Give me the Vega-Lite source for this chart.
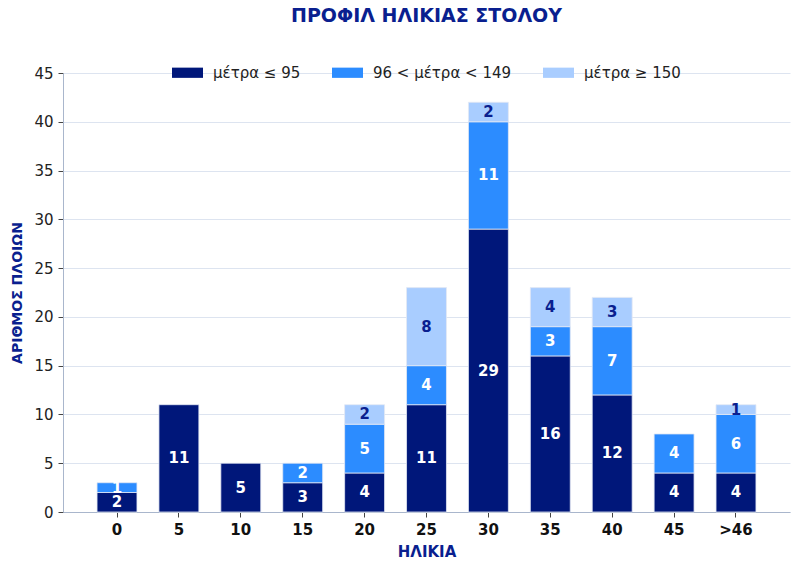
{
  "$schema": "https://vega.github.io/schema/vega-lite/v6.json",
  "autosize": {"type": "none"},
  "padding": {"left": 63, "top": 73, "right": 8, "bottom": 56},
  "width": 727,
  "height": 439,
  "title": {
    "text": "ΠΡΟΦΙΛ ΗΛΙΚΙΑΣ ΣΤΟΛΟΥ",
    "fontSize": 19,
    "fontWeight": "bold",
    "color": "#0a1f8f",
    "offset": 31,
    "anchor": "middle"
  },
  "config": {
    "font": "DejaVu Sans",
    "view": {"stroke": null},
    "axis": {"labelFontSize": 15, "titleFontSize": 15, "titleFontWeight": "bold", "titleColor": "#0a1f8f"}
  },
  "data": {
    "values": [
      {"age": "0", "size": "μέτρα ≤ 95", "tier": 1, "count": 2},
      {"age": "0", "size": "96 < μέτρα < 149", "tier": 2, "count": 1},
      {"age": "5", "size": "μέτρα ≤ 95", "tier": 1, "count": 11},
      {"age": "10", "size": "μέτρα ≤ 95", "tier": 1, "count": 5},
      {"age": "15", "size": "μέτρα ≤ 95", "tier": 1, "count": 3},
      {"age": "15", "size": "96 < μέτρα < 149", "tier": 2, "count": 2},
      {"age": "20", "size": "μέτρα ≤ 95", "tier": 1, "count": 4},
      {"age": "20", "size": "96 < μέτρα < 149", "tier": 2, "count": 5},
      {"age": "20", "size": "μέτρα ≥ 150", "tier": 3, "count": 2},
      {"age": "25", "size": "μέτρα ≤ 95", "tier": 1, "count": 11},
      {"age": "25", "size": "96 < μέτρα < 149", "tier": 2, "count": 4},
      {"age": "25", "size": "μέτρα ≥ 150", "tier": 3, "count": 8},
      {"age": "30", "size": "μέτρα ≤ 95", "tier": 1, "count": 29},
      {"age": "30", "size": "96 < μέτρα < 149", "tier": 2, "count": 11},
      {"age": "30", "size": "μέτρα ≥ 150", "tier": 3, "count": 2},
      {"age": "35", "size": "μέτρα ≤ 95", "tier": 1, "count": 16},
      {"age": "35", "size": "96 < μέτρα < 149", "tier": 2, "count": 3},
      {"age": "35", "size": "μέτρα ≥ 150", "tier": 3, "count": 4},
      {"age": "40", "size": "μέτρα ≤ 95", "tier": 1, "count": 12},
      {"age": "40", "size": "96 < μέτρα < 149", "tier": 2, "count": 7},
      {"age": "40", "size": "μέτρα ≥ 150", "tier": 3, "count": 3},
      {"age": "45", "size": "μέτρα ≤ 95", "tier": 1, "count": 4},
      {"age": "45", "size": "96 < μέτρα < 149", "tier": 2, "count": 4},
      {"age": ">46", "size": "μέτρα ≤ 95", "tier": 1, "count": 4},
      {"age": ">46", "size": "96 < μέτρα < 149", "tier": 2, "count": 6},
      {"age": ">46", "size": "μέτρα ≥ 150", "tier": 3, "count": 1}
    ]
  },
  "transform": [
    {"stack": "count", "groupby": ["age"], "sort": [{"field": "tier", "order": "ascending"}], "as": ["y0", "y1"]},
    {"calculate": "(datum.y0 + datum.y1) / 2", "as": "ymid"}
  ],
  "encoding": {
    "x": {
      "field": "age",
      "type": "nominal",
      "sort": ["0", "5", "10", "15", "20", "25", "30", "35", "40", "45", ">46"],
      "scale": {"paddingInner": 0.355, "paddingOuter": 0.55},
      "axis": {
        "title": "ΗΛΙΚΙΑ",
        "labelAngle": 0,
        "labelFontWeight": "bold",
        "labelColor": "#111",
        "labelPadding": 5,
        "tickSize": 5,
        "tickColor": "#444",
        "domainColor": "#a9b6cc",
        "titlePadding": 7
      }
    }
  },
  "layer": [
    {
      "mark": {"type": "bar", "stroke": "#e3e9f4", "strokeWidth": 0.8},
      "encoding": {
        "y": {
          "field": "y1",
          "type": "quantitative",
          "scale": {"domain": [0, 45], "nice": false},
          "axis": {
            "title": "ΑΡΙΘΜΟΣ ΠΛΟΙΩΝ",
            "titleFontSize": 14,
            "values": [0, 5, 10, 15, 20, 25, 30, 35, 40, 45],
            "grid": true,
            "gridColor": "#dde4f0",
            "labelColor": "#222",
            "labelPadding": 5,
            "tickSize": 5,
            "tickColor": "#444",
            "domainColor": "#a9b6cc",
            "titlePadding": 9
          }
        },
        "y2": {"field": "y0"},
        "color": {
          "field": "size",
          "type": "nominal",
          "scale": {
            "domain": ["μέτρα ≤ 95", "96 < μέτρα < 149", "μέτρα ≥ 150"],
            "range": ["#00177a", "#2c8cff", "#a9cdff"]
          },
          "legend": {
            "title": null,
            "orient": "none",
            "direction": "horizontal",
            "legendX": 109,
            "legendY": -16,
            "labelFontSize": 15,
            "labelColor": "#222",
            "symbolType": "M-1,-0.33H1V0.33H-1Z",
            "symbolSize": 961,
            "symbolStrokeWidth": 0,
            "symbolOpacity": 1,
            "labelOffset": 10,
            "columnPadding": 31
          }
        }
      }
    },
    {
      "mark": {"type": "text", "fontSize": 15, "fontWeight": "bold", "baseline": "middle"},
      "encoding": {
        "y": {"field": "ymid", "type": "quantitative"},
        "text": {"field": "count", "type": "quantitative"},
        "color": {
          "condition": {"test": "datum.tier == 3", "value": "#0a1f8f"},
          "value": "white"
        }
      }
    }
  ]
}
